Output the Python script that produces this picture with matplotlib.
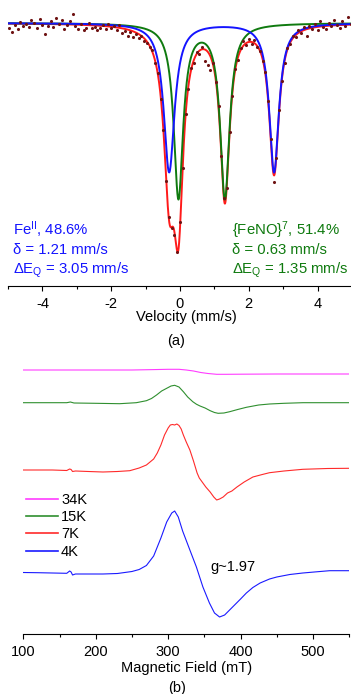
import matplotlib
matplotlib.use("Agg")
import matplotlib.pyplot as plt
import numpy as np

plt.rcParams["font.family"] = ["Liberation Sans", "DejaVu Sans"]
plt.rcParams["mathtext.fontset"] = "custom"
plt.rcParams["mathtext.rm"] = "Liberation Sans"
plt.rcParams["mathtext.it"] = "Liberation Sans:italic"
plt.rcParams["mathtext.default"] = "regular"
plt.rcParams["axes.unicode_minus"] = False

W, H, DPI = 351, 694, 100

# ---- (a) Mossbauer: measured channels (relative transmission) ----
velocity = np.linspace(-4.96, 4.96, 125)
transmission = [
    0.995, 0.991, 0.998, 0.994, 1.001, 0.997, 0.999, 0.996, 1.003, 1.000,
    0.995, 1.004, 0.998, 0.989, 0.997, 1.002, 0.996, 1.005, 0.999, 1.003,
    0.994, 0.998, 1.002, 1.009, 0.997, 0.994, 0.999, 0.993, 0.995, 1.000,
    0.995, 0.996, 0.993, 0.995, 0.998, 0.994, 0.999, 0.995, 0.997, 0.993,
    0.998, 0.990, 0.992, 0.987, 0.991, 0.986, 0.989, 0.985, 0.987, 0.982,
    0.980, 0.976, 0.973, 0.960, 0.950, 0.924, 0.893, 0.842, 0.806, 0.795,
    0.788, 0.771, 0.801, 0.855, 0.909, 0.934, 0.955, 0.960, 0.971, 0.969,
    0.976, 0.962, 0.958, 0.953, 0.960, 0.941, 0.917, 0.867, 0.825, 0.835,
    0.891, 0.927, 0.954, 0.963, 0.975, 0.982, 0.978, 0.984, 0.979, 0.983,
    0.976, 0.972, 0.962, 0.951, 0.922, 0.884, 0.841, 0.865, 0.913, 0.942,
    0.960, 0.975, 0.979, 0.987, 0.986, 0.993, 0.990, 0.996, 0.987, 0.997,
    0.994, 0.999, 0.993, 1.002, 0.996, 0.994, 1.000, 0.997, 1.003, 0.998,
    0.995, 1.002, 0.997, 1.006, 0.999,
]

# fitted doublets: Fe(II) and {FeNO}7
site_names = ["FeII", "FeNO"]
isomer_shift = [1.21, 0.63]
quad_split = [3.05, 1.35]
line_depth = [[0.149, 0.149], [0.174, 0.174]]
line_hwhm = [[0.19, 0.17], [0.165, 0.165]]
site_colors = ["#1414ff", "#0f7a0f"]

# ---- (b) EPR spectra ----
temps = ["34K", "15K", "7K", "4K"]
field_34 = [100, 200, 250, 280, 300, 315, 325, 335, 345, 355, 367, 380, 400, 450, 500, 550]
sig_34 = [0, 0, 0, 0.4, 0.7, 0.7, 0, -1, -2.5, -3.5, -4.3, -4.3, -4.2, -4, -4, -4]
field_15 = [100, 160, 165, 170, 200, 233, 256, 270, 277, 284, 291, 298, 304, 309, 315,
            321, 327, 334, 339, 344, 351, 358, 364, 369, 377, 385, 396, 408, 425, 440,
            460, 486, 520, 550]
sig_15 = [0.3, 0.3, 1, 0, -0.3, -0.7, 0.3, 2.3, 4.5, 8, 12, 14.7, 17, 17.7, 16,
          11.3, 6, 1.3, -1.2, -3, -5, -7.7, -9.5, -10.3, -10, -8.7, -6.5, -4.3, -2, -1,
          -0.3, 0.3, 0.3, 0.3]
field_7 = [100, 140, 160, 164, 166, 168, 172, 190, 210, 230, 247, 260, 270, 280, 285,
           290, 295, 300, 303, 306, 309, 312, 315, 318, 321, 325, 330, 335, 340, 343,
           347, 352, 358, 363, 367, 371, 376, 382, 388, 395, 405, 417, 430, 440, 460,
           486, 520, 550]
sig_7 = [0, 0, -0.5, 1, 0.5, -1.5, -1, -1.5, -2, -1.5, -0.7, 2, 5, 11, 17,
         25, 35, 42, 45, 45.5, 45, 46, 44.5, 41, 35, 28, 20, 9, -3, -8,
         -12, -17, -22, -27, -30, -29, -27, -23, -21, -17, -12, -7, -4.5, -2.7, -1,
         0.7, 1.5, 1.7]
field_4 = [100, 120, 140, 160, 164, 166, 168, 172, 190, 210, 230, 250, 260, 270, 280,
           290, 298, 305, 309, 314, 320, 330, 339, 348, 357, 364, 371, 378, 389, 400,
           408, 417, 427, 440, 450, 468, 486, 505, 523, 550]
sig_4 = [0.5, 0.3, 0, -0.3, 2, 1, -2, -1, -1, -1, -0.5, 1.5, 3.5, 7.5, 17,
         35, 51, 60, 62, 56, 42, 23, 6, -14, -30, -40, -44, -42, -34, -26,
         -20, -14.5, -10, -6, -4, -1.5, 0, 1.2, 2.3, 2.3]
epr_fields = [field_34, field_15, field_7, field_4]
epr_signals = [sig_34, sig_15, sig_7, sig_4]
epr_colors = ["#ff3cff", "#2f8f2f", "#ff2a2a", "#1a1aff"]
stack_offset = [264, 231, 164, 61]


def lorentz(v, c, d, g):
    return d / (1 + ((v - c) / g) ** 2)


def bottom_axis_only(ax):
    for side in ("left", "right", "top"):
        ax.spines[side].set_visible(False)
    ax.set_yticks([])
    ax.tick_params(axis="x", which="major", direction="out", length=3.6, width=0.8,
                   labelsize=10.5, pad=4)
    ax.tick_params(axis="x", which="minor", direction="out", length=2, width=0.8)
    ax.spines["bottom"].set_linewidth(0.8)


fig = plt.figure(figsize=(W / DPI, H / DPI), dpi=DPI)

# ---------------- panel (a) ----------------
ax1 = fig.add_axes([8 / W, 1 - 286 / H, 344 / W, 278 / H])
v_fine = np.linspace(-5, 5, 2001)
dips = []
for k in range(2):
    d = np.zeros_like(v_fine)
    for sgn, j in ((-1, 0), (1, 1)):
        c = isomer_shift[k] + sgn * quad_split[k] / 2
        d += lorentz(v_fine, c, line_depth[k][j], line_hwhm[k][j])
    dips.append(d)
ax1.plot(v_fine, 1 - dips[0] - dips[1], color="#ff1a1a", lw=1.4, zorder=2)
ax1.plot(v_fine, 1 - dips[1], color=site_colors[1], lw=1.4, zorder=3)
ax1.plot(v_fine, 1 - dips[0], color=site_colors[0], lw=1.4, zorder=4)
ax1.scatter(velocity, transmission, s=5, color="#6e1212", lw=0, zorder=5)
ax1.set_xlim(-5, 5)
ax1.set_ylim(0.737, 1.015)
ax1.set_xticks([-4, -2, 0, 2, 4])
ax1.set_xticks([-5, -3, -1, 1, 3, 5], minor=True)
bottom_axis_only(ax1)

left_txt = ["Fe$^{II}$, 48.6%", "δ = %.2f mm/s" % isomer_shift[0],
            "ΔE$_{Q}$ = %.2f mm/s" % quad_split[0]]
right_txt = ["{FeNO}$^{7}$, 51.4%", "δ = %.2f mm/s" % isomer_shift[1],
             "ΔE$_{Q}$ = %.2f mm/s" % quad_split[1]]
for i, yb in enumerate([235, 254, 274]):
    fig.text(13 / W, 1 - yb / H, left_txt[i], color=site_colors[0], fontsize=10.7,
             va="baseline", ha="left")
    fig.text(232 / W, 1 - yb / H, right_txt[i], color=site_colors[1], fontsize=10.7,
             va="baseline", ha="left")

fig.text(186 / W, 1 - 317 / H, "Velocity (mm/s)", fontsize=10.5, ha="center", va="center")
fig.text(176 / W, 1 - 341 / H, "(a)", fontsize=10.5, ha="center", va="center")

# ---------------- panel (b) ----------------
ax2 = fig.add_axes([23.3 / W, 1 - 634 / H, 325.9 / W, 279 / H])
for f, s, off, col, lab in zip(epr_fields, epr_signals, stack_offset, epr_colors, temps):
    ax2.plot(f, np.asarray(s) + off, color=col, lw=0.8, label=lab)
ax2.set_xlim(100, 550)
ax2.set_ylim(0, 279)
ax2.set_xticks([100, 200, 300, 400, 500])
ax2.set_xticks([150, 250, 350, 450, 550], minor=True)
bottom_axis_only(ax2)
leg = ax2.legend(loc="upper left", bbox_to_anchor=(26 / W, 1 - 493 / H),
                 bbox_transform=fig.transFigure, frameon=False, fontsize=10.5,
                 borderpad=0, borderaxespad=0, handlelength=2.2, handletextpad=0.2,
                 labelspacing=0.22)
for ln in leg.get_lines():
    ln.set_linewidth(1.2)

fig.text(210 / W, 1 - 571 / H, "g~1.97", fontsize=10.5, ha="left", va="baseline")
fig.text(187 / W, 1 - 668 / H, "Magnetic Field (mT)", fontsize=10.5, ha="center", va="center")
fig.text(177 / W, 1 - 688 / H, "(b)", fontsize=10.5, ha="center", va="center")

fig.savefig("out.png", dpi=DPI)
